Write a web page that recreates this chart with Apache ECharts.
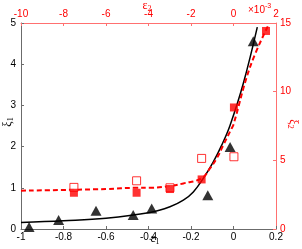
<!DOCTYPE html>
<html><head><meta charset="utf-8">
<script src="https://cdn.jsdelivr.net/npm/echarts@6/dist/echarts.min.js"></script>
<style>html,body{margin:0;padding:0;background:#fff}#c{width:302px;height:249px}</style>
</head><body><div id="c"></div>
<script>
// bottom/left axes: eps1 vs xi1 ; top/right axes: eps2 (x1e-3) vs xi2
const eps1Ticks = [-1, -0.8, -0.6, -0.4, -0.2, 0, 0.2];
const eps2Ticks = [-10, -8, -6, -4, -2, 0, 2];
const xi1Ticks = [0, 1, 2, 3, 4, 5];
const xi2Ticks = [0, 5, 10, 15];

const triEps1 = [-0.962, -0.823, -0.647, -0.472, -0.385, -0.121, -0.016, 0.093];
const triXi1  = [0.05, 0.22, 0.44, 0.34, 0.50, 0.82, 1.99, 4.56];

const fitEps1 = [-1.0, -0.8, -0.6, -0.393, -0.299, -0.236, -0.189, -0.142, -0.095, -0.056, -0.016, 0.046, 0.112];
const fitXi1  = [0.16, 0.20, 0.26, 0.40, 0.54, 0.70, 0.90, 1.23, 1.63, 2.03, 2.52, 3.53, 4.90];

const sqEps2   = [-7.51, -4.56, -2.99, -1.50, 0.02, 1.53];
const sqXi2    = [2.64, 2.64, 2.91, 3.61, 8.85, 14.42];
const openEps2 = [-7.51, -4.56, -2.99, -1.50, 0.02];
const openXi2  = [3.03, 3.51, 3.00, 5.14, 5.26];

const fitEps2 = [-10, -6, -4.6, -3.93, -2.99, -2.36, -1.50, -1.11, -0.79, -0.48, -0.09, -0.01, 0.78, 1.64];
const fitXi2  = [2.79, 2.91, 3.0, 3.0, 3.13, 3.32, 3.69, 4.41, 5.14, 6.11, 7.32, 7.56, 11.8, 14.84];

const zip = (a, b) => a.map((v, i) => [v, b[i]]);
const RED = '#ff0000', RAX = '#ff7070', GAX = '#6b6b6b';
const tickFont = {fontFamily: 'Liberation Sans Narrow, Liberation Sans, Arial', fontSize: 10};
const fmt = v => String(Math.round(v * 10) / 10);

const chart = echarts.init(document.getElementById('c'), null, {renderer: 'canvas'});
chart.setOption({
  animation: false,
  backgroundColor: '#fff',
  grid: {left: 21, right: 26, top: 23, bottom: 20, containLabel: false},
  xAxis: [
    {type: 'value', position: 'bottom', min: eps1Ticks[0], max: eps1Ticks[eps1Ticks.length-1], interval: 0.2,
     axisLine: {onZero: false, lineStyle: {color: GAX, width: 1}},
     axisTick: {inside: true, length: 3, lineStyle: {color: GAX}},
     axisLabel: Object.assign({color: '#000', margin: 3, formatter: fmt}, tickFont),
     splitLine: {show: false}},
    {type: 'value', position: 'top', min: eps2Ticks[0], max: eps2Ticks[eps2Ticks.length-1], interval: 2,
     axisLine: {onZero: false, lineStyle: {color: RAX, width: 1}},
     axisTick: {inside: true, length: 3, lineStyle: {color: RAX}},
     axisLabel: Object.assign({color: RED, margin: 4, formatter: fmt}, tickFont),
     splitLine: {show: false}}
  ],
  yAxis: [
    {type: 'value', position: 'left', min: 0, max: 5, interval: 1,
     axisLine: {show: true, onZero: false, lineStyle: {color: GAX, width: 1}},
     axisTick: {show: true, inside: true, length: 3, lineStyle: {color: GAX}},
     axisLabel: Object.assign({color: '#000', margin: 5}, tickFont),
     splitLine: {show: false}},
    {type: 'value', position: 'right', min: 0, max: 15, interval: 5,
     axisLine: {show: true, onZero: false, lineStyle: {color: RAX, width: 1}},
     axisTick: {show: true, inside: true, length: 3, lineStyle: {color: RAX}},
     axisLabel: Object.assign({color: RED, margin: 4}, tickFont),
     splitLine: {show: false}}
  ],
  series: [
    {type: 'line', xAxisIndex: 0, yAxisIndex: 0, data: zip(fitEps1, fitXi1), smooth: 0.4,
     showSymbol: false, lineStyle: {color: '#000', width: 1.5}, z: 2},
    {type: 'line', xAxisIndex: 1, yAxisIndex: 1, data: zip(fitEps2, fitXi2), smooth: 0.4,
     showSymbol: false, lineStyle: {color: RED, width: 2, type: [5, 3]}, z: 2},
    {type: 'scatter', xAxisIndex: 1, yAxisIndex: 1, data: zip(openEps2, openXi2), symbol: 'rect', symbolSize: 8,
     itemStyle: {color: '#fff', borderColor: RED, borderWidth: 1}, z: 3},
    {type: 'scatter', xAxisIndex: 1, yAxisIndex: 1, data: zip(sqEps2, sqXi2), symbol: 'rect', symbolSize: 8,
     itemStyle: {color: RED}, z: 4},
    {type: 'scatter', xAxisIndex: 0, yAxisIndex: 0, data: zip(triEps1, triXi1), symbol: 'triangle', symbolSize: [11, 10],
     itemStyle: {color: '#000'}, z: 5, clip: false}
  ],
  graphic: [
    {type: 'text', x: 8, y: 122, rotation: Math.PI / 2,
     style: {text: '{g|ξ}{s|1}', rich: {g: {fontFamily: 'Liberation Serif, DejaVu Serif', fontSize: 12, fill: '#000'},
       s: {fontFamily: 'Liberation Serif', fontSize: 8, fill: '#000', padding: [6, 0, 0, 0]}}, fill: '#000', align: 'center', verticalAlign: 'middle'}},
    {type: 'text', x: 293, y: 124, rotation: -Math.PI / 2,
     style: {text: '{g|ξ}{s|2}', rich: {g: {fontFamily: 'Liberation Serif, DejaVu Serif', fontSize: 12, fill: RED},
       s: {fontFamily: 'Liberation Serif', fontSize: 8, fill: RED, padding: [6, 0, 0, 0]}}, align: 'center', verticalAlign: 'middle'}},
    {type: 'text', x: 155, y: 239,
     style: {text: '{g|ε}{s|1}', rich: {g: {fontFamily: 'Liberation Serif, DejaVu Serif', fontSize: 12, fill: '#000'},
       s: {fontFamily: 'Liberation Serif', fontSize: 8, fill: '#000', padding: [6, 0, 0, 0]}}, align: 'center', verticalAlign: 'middle'}},
    {type: 'text', x: 147, y: 6,
     style: {text: '{g|ε}{s|2}', rich: {g: {fontFamily: 'Liberation Serif, DejaVu Serif', fontSize: 12, fill: RED},
       s: {fontFamily: 'Liberation Serif', fontSize: 8, fill: RED, padding: [6, 0, 0, 0]}}, align: 'center', verticalAlign: 'middle'}},
    {type: 'text', x: 248, y: 2,
     style: {text: '{a|×10}{b|-3}', rich: {a: {fontFamily: 'Liberation Sans', fontSize: 10, fill: RED, padding: [3, 0, 0, 0]},
       b: {fontFamily: 'Liberation Sans', fontSize: 7, fill: RED, padding: [0, 0, 4, 0]}}, align: 'left', verticalAlign: 'top'}}
  ]
});
</script></body></html>
